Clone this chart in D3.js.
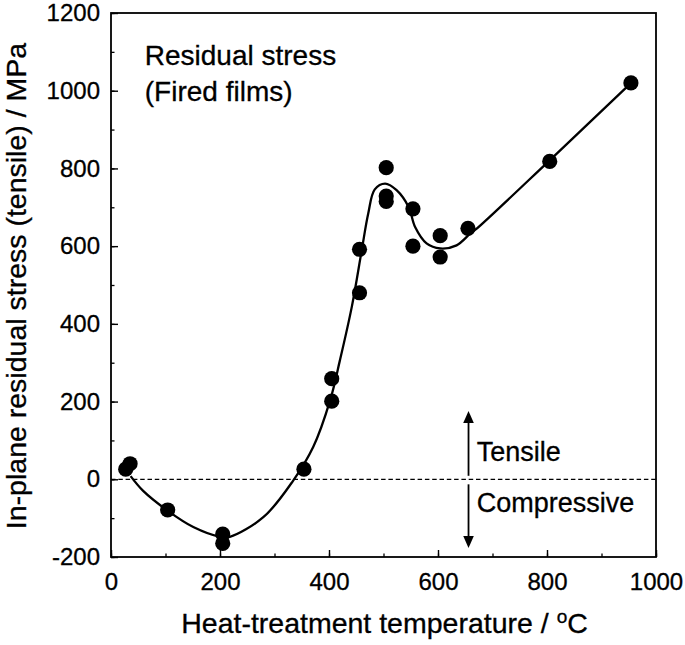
<!DOCTYPE html>
<html>
<head>
<meta charset="utf-8">
<script src="https://cdn.jsdelivr.net/npm/d3@7"></script>
<style>
  html, body { margin: 0; padding: 0; background: #fff; }
  svg { display: block; font-family: "Liberation Sans", Arial, Helvetica, sans-serif; }
  text { stroke: #000; stroke-width: 0.3px; fill: #000; }
</style>
</head>
<body>
<svg id="chart" width="685" height="645"></svg>
<script>
// ---- data ----
const pointTemps = [27, 35, 104, 205, 205, 354, 405, 405, 456, 456, 505, 505, 505, 554, 554, 604, 604, 655, 805, 954];
const pointStress = [26, 40, -79, -141, -165, 26, 201, 259, 480, 592, 802, 729, 715, 696, 600, 627, 572, 646, 818, 1020];

const fitTemps  = [36, 59, 105, 151, 200, 218, 280, 334, 371, 402, 420, 442, 460, 472, 484, 503, 524, 546, 558, 579, 604, 634, 659, 671, 802, 952];
const fitStress = [8, -30, -82, -123, -148, -148, -97, -4, 83, 203, 306, 445, 589, 684, 746, 761, 744, 701, 649, 607, 594, 602, 632, 645, 817, 1017];

const xTicks = [0, 200, 400, 600, 800, 1000];
const yTicks = [-200, 0, 200, 400, 600, 800, 1000, 1200];
const xMinorTicks = d3.range(0, 1001, 100);
const yMinorTicks = d3.range(-200, 1201, 100);

const xTitle = "Heat-treatment temperature / ";
const yTitle = "In-plane residual stress (tensile) / MPa";
const noteLines = ["Residual stress", "(Fired films)"];
const tensileLabel = "Tensile";
const compressiveLabel = "Compressive";

// ---- layout ----
const svg = d3.select("#chart");
const L = 111, R = 656, T = 13, B = 557;
const x = d3.scaleLinear().domain([0, 1000]).range([L, R]);
const y = d3.scaleLinear().domain([-200, 1200]).range([B, T]);

const font = "\"Liberation Sans\", Arial, Helvetica, sans-serif";

// minor ticks
svg.append("g").attr("transform", `translate(0,${B})`)
  .call(d3.axisBottom(x).tickValues(xMinorTicks).tickSize(-3.5).tickFormat(""))
  .call(g => g.select(".domain").remove())
  .selectAll("line").attr("stroke", "#000").attr("stroke-width", 1.3);
svg.append("g").attr("transform", `translate(${L},0)`)
  .call(d3.axisLeft(y).tickValues(yMinorTicks).tickSize(-3.5).tickFormat(""))
  .call(g => g.select(".domain").remove())
  .selectAll("line").attr("stroke", "#000").attr("stroke-width", 1.3);

// major axes
const gx = svg.append("g").attr("transform", `translate(0,${B})`)
  .call(d3.axisBottom(x).tickValues(xTicks).tickSize(-7).tickPadding(16).tickFormat(d => String(d)));
gx.select(".domain").remove();
gx.selectAll("line").attr("stroke", "#000").attr("stroke-width", 1.4);
gx.selectAll("text").attr("font-size", 24).attr("font-family", font).attr("fill", "#000");

const gy = svg.append("g").attr("transform", `translate(${L},0)`)
  .call(d3.axisLeft(y).tickValues(yTicks).tickSize(-7).tickPadding(11).tickFormat(d => String(d)));
gy.select(".domain").remove();
gy.selectAll("line").attr("stroke", "#000").attr("stroke-width", 1.4);
gy.selectAll("text").attr("font-size", 24).attr("font-family", font).attr("fill", "#000");

// frame
svg.append("rect")
  .attr("x", L).attr("y", T).attr("width", R - L).attr("height", B - T)
  .attr("fill", "none").attr("stroke", "#000").attr("stroke-width", 1.8);

// zero dashed line
svg.append("line")
  .attr("x1", x(0)).attr("x2", x(1000)).attr("y1", y(0)).attr("y2", y(0))
  .attr("stroke", "#000").attr("stroke-width", 1.3).attr("stroke-dasharray", "4.5,2.8");

// fitted curve
const fitData = fitTemps.map((t, i) => [t, fitStress[i]]);
svg.append("path")
  .datum(fitData)
  .attr("d", d3.line().x(d => x(d[0])).y(d => y(d[1])).curve(d3.curveCatmullRom.alpha(0.5)))
  .attr("fill", "none").attr("stroke", "#000").attr("stroke-width", 2.3);

// points
svg.append("g").selectAll("circle")
  .data(pointTemps.map((t, i) => [t, pointStress[i]]))
  .join("circle")
  .attr("cx", d => x(d[0])).attr("cy", d => y(d[1])).attr("r", 7.6)
  .attr("fill", "#000");

// arrows
const arrowX = x(656);
function arrow(y0, y1) {
  const dir = Math.sign(y1 - y0);
  svg.append("line").attr("x1", arrowX).attr("x2", arrowX)
    .attr("y1", y0).attr("y2", y1 - dir * 10)
    .attr("stroke", "#000").attr("stroke-width", 1.8);
  svg.append("path")
    .attr("d", `M${arrowX},${y1} L${arrowX - 5.3},${y1 - dir * 12} L${arrowX + 5.3},${y1 - dir * 12} Z`)
    .attr("fill", "#000");
}
arrow(y(9), y(176));
arrow(y(-13), y(-177));

// annotation text
svg.append("text").attr("x", x(671)).attr("y", y(47))
  .attr("font-size", 27).attr("font-family", font).text(tensileLabel);
svg.append("text").attr("x", x(671)).attr("y", y(-84))
  .attr("font-size", 27).attr("font-family", font).text(compressiveLabel);

const note = svg.append("text").attr("font-size", 28).attr("font-family", font);
note.append("tspan").attr("x", x(62)).attr("y", y(1065)).text(noteLines[0]);
note.append("tspan").attr("x", x(62)).attr("y", y(973)).text(noteLines[1]);

// axis titles
const xt = svg.append("text")
  .attr("x", (L + R) / 2 + 1).attr("y", 633)
  .attr("text-anchor", "middle").attr("font-size", 28.5).attr("font-family", font);
xt.append("tspan").text(xTitle);
xt.append("tspan").attr("font-size", 19).attr("dy", -10).text("o");
xt.append("tspan").attr("dy", 10).text("C");

svg.append("text")
  .attr("transform", `translate(26,${(T + B) / 2 + 1}) rotate(-90)`)
  .attr("text-anchor", "middle").attr("font-size", 28.5).attr("font-family", font)
  .text(yTitle);
</script>
</body>
</html>
